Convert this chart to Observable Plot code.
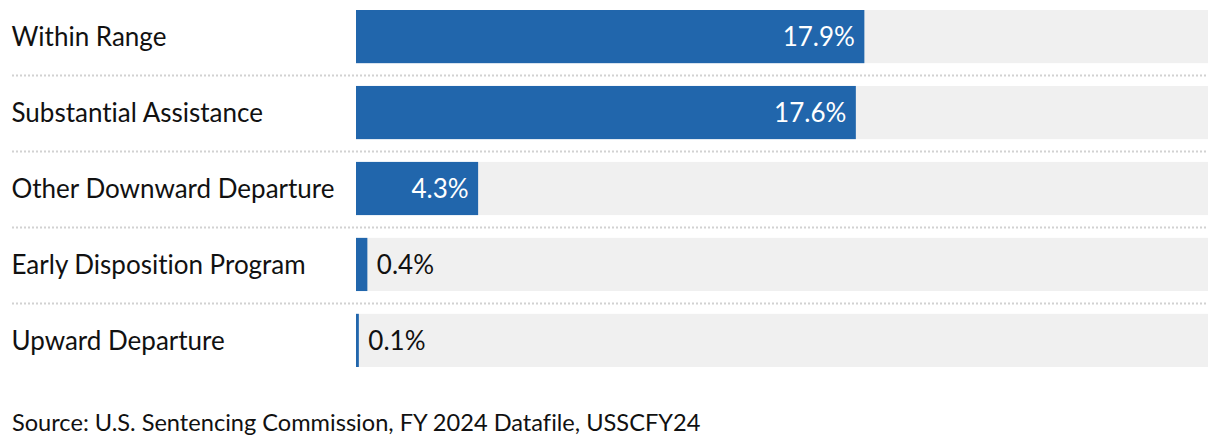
<!DOCTYPE html>
<html><head><meta charset="utf-8">
<script src="https://cdn.jsdelivr.net/npm/d3@7"></script>
<script src="https://cdn.jsdelivr.net/npm/@observablehq/plot@0.6"></script>
<style>
body{margin:0;background:#fff;font-family:Lato,sans-serif;font-variant-ligatures:none;}
svg text{font-variant-ligatures:none;}
#cap{font-family:Lato,sans-serif;font-size:23.6px;color:#111;margin:28px 0 0 12px;font-variant-ligatures:none;}
</style></head><body>
<div id="chart"></div>
<div id="cap">Source: U.S. Sentencing Commission, FY 2024 Datafile, USSCFY24</div>
<script>
const categories = ["Within Range","Substantial Assistance","Other Downward Departure","Early Disposition Program","Upward Departure"];
const values = [17.9, 17.6, 4.3, 0.4, 0.1];
const xMax = 30;
const data = categories.map((c,i)=>({cat:c, v:values[i]}));
const inside = data.filter(d=>d.v>=2), outside = data.filter(d=>d.v<2);
const chart = Plot.plot({
  width:1220, height:380,
  marginLeft:356, marginRight:12, marginTop:0, marginBottom:0,
  style:{fontFamily:"Lato, sans-serif", fontSize:"26px", color:"#111", background:"#fff"},
  x:{domain:[0,xMax], axis:null},
  y:{domain:categories, range:[10,367], paddingInner:0.3, paddingOuter:0, align:0, round:false, label:null},
  marks:[
    Plot.ruleY(categories.slice(0,-1), {y:d=>d, dy:38.5, stroke:"#d2d2d2", strokeWidth:2, strokeDasharray:"2,2", insetLeft:-344, insetRight:0}),
    Plot.barX(data, {y:"cat", x1:0, x2:xMax, fill:"#f0f0f0"}),
    Plot.barX(data, {y:"cat", x:"v", fill:"#2166ac"}),
    Plot.text(inside, {y:"cat", x:"v", text:d=>d.v.toFixed(1)+"%", textAnchor:"end", dx:-10, dy:1, fill:"#fff", fontSize:26}),
    Plot.text(outside, {y:"cat", x:"v", text:d=>d.v.toFixed(1)+"%", textAnchor:"start", dx:9, dy:1, fill:"#111", fontSize:26}),
    Plot.axisY({tickSize:0, textAnchor:"start", dx:-336, dy:1, fontSize:26, fill:"#111", label:null})
  ]
});
document.getElementById("chart").append(chart);
</script>
</body></html>
